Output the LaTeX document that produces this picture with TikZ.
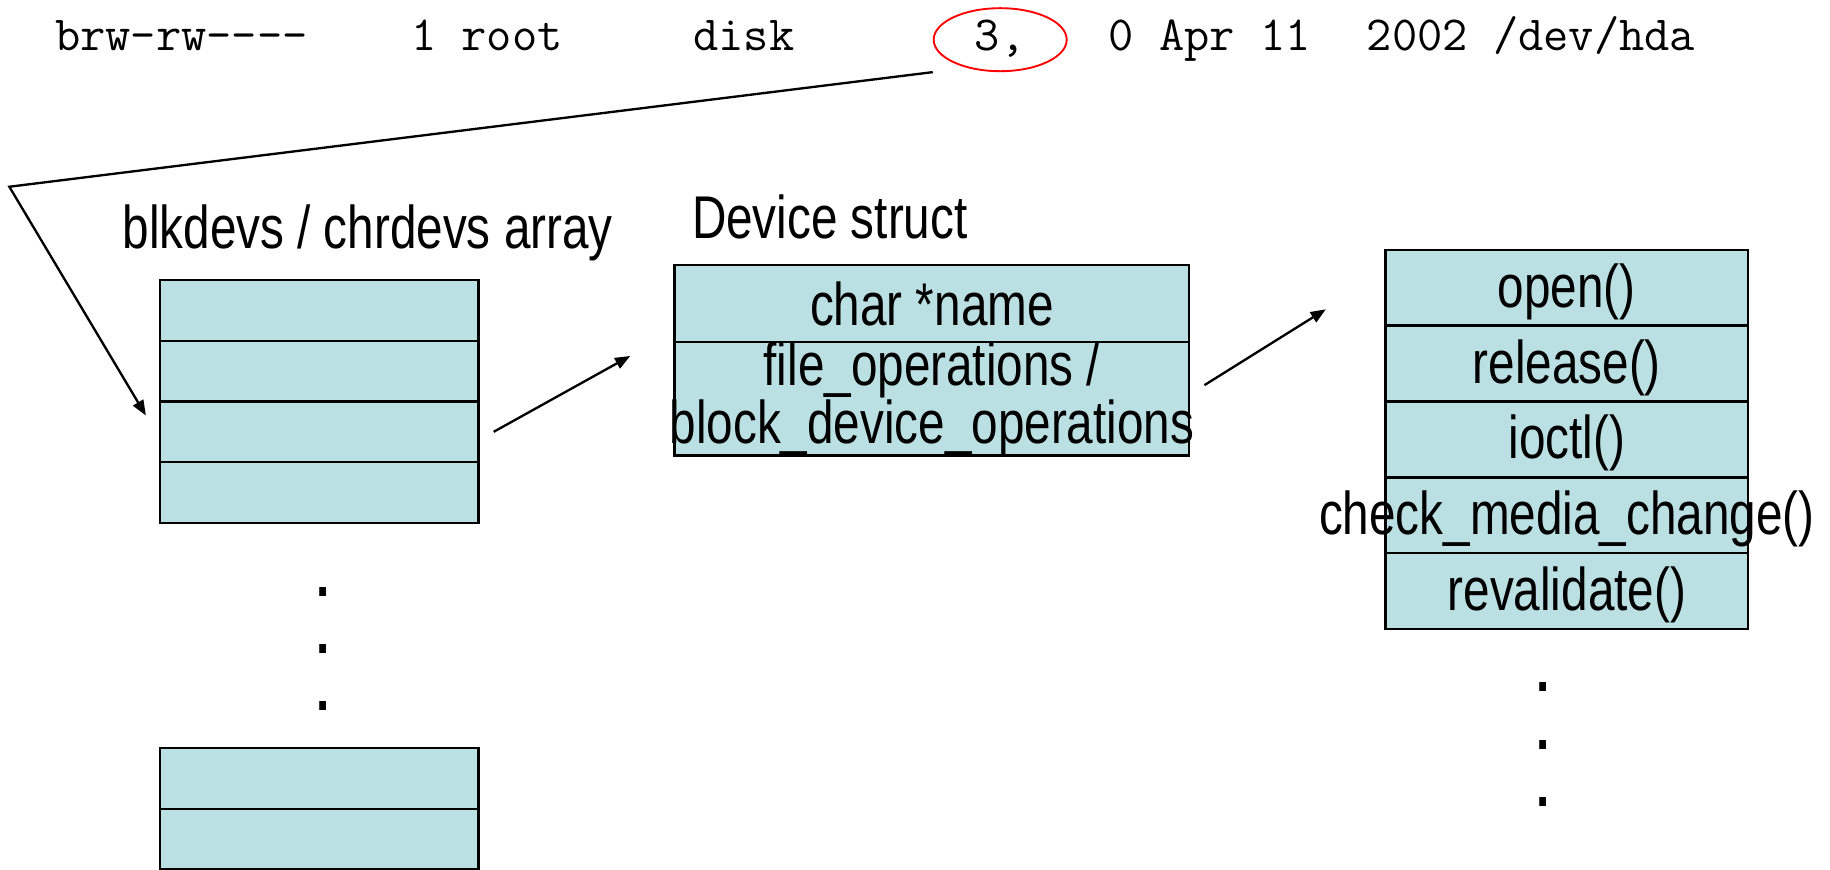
\documentclass[tikz,border=0pt]{standalone}
\usepackage{fontspec}
\setmainfont[FakeStretch=0.79]{Liberation Sans}
\usetikzlibrary{positioning}
\usetikzlibrary{shapes.geometric}
\usetikzlibrary{arrows.meta}
\definecolor{cellblue}{RGB}{187,224,227}

\begin{document}
\begin{tikzpicture}[x=1pt, y=-1pt, >={Triangle[length=13pt, width=10pt]},
slotnode/.style={rectangle, draw=black, fill=cellblue, line width=2pt, inner sep=0pt, outer sep=0pt, minimum width=273pt, minimum height=52pt},
fieldnode/.style={rectangle, draw=black, fill=cellblue, line width=2pt, inner sep=0pt, outer sep=0pt, minimum width=441pt, align=center, font=\fontsize{51.7}{46}\selectfont},
opnode/.style={rectangle, draw=black, fill=cellblue, line width=2pt, inner sep=0pt, outer sep=0pt, minimum width=311pt, minimum height=65pt, text depth=4pt, font=\fontsize{51.7}{60}\selectfont},
lsnode/.style={anchor=base west, inner sep=0pt, font=\ttfamily\fontsize{42}{45}\selectfont},
titlenode/.style={anchor=base, inner sep=0pt, font=\fontsize{51.7}{60}\selectfont},
dotsnode/.style={align=center, inner sep=0pt, font=\bfseries\fontsize{51.7}{49}\selectfont},
ringnode/.style={ellipse, draw=red, line width=1.6pt, inner sep=0pt, minimum width=114pt, minimum height=54pt},
conn/.style={line width=2pt}]
\useasboundingbox (0,0) rectangle (1568,745);

% ls -l line
\node[lsnode] (perm) at (47,43) {brw-rw----};
\node[lsnode] (owner) at (352,43) {1 root};
\node[lsnode] (group) at (594,43) {disk};
\node[lsnode] (major) at (835,43) {3,};
\node[lsnode] (minor) at (950,43) {0 Apr 11};
\node[lsnode] (file) at (1171,43) {2002 /dev/hda};
\node[ringnode] (majring) at (857,34) {};

% blkdevs / chrdevs array
\node[titlenode] (arraytitle) at (315,213) {blkdevs / chrdevs array};
\node[slotnode] (a1) at (273.5,266) {};
\node[slotnode] (a2) [below=0pt of a1] {};
\node[slotnode] (a3) [below=0pt of a2] {};
\node[slotnode] (a4) [below=0pt of a3] {};
\node[dotsnode] (adots) at (277,556) {.\\.\\.};
\node[slotnode] (a5) at (273.5,667) {};
\node[slotnode] (a6) [below=0pt of a5] {};

% device struct
\node[titlenode] (devtitle) at (711,204) {Device struct};
\node[fieldnode, minimum height=66pt] (dname) at (798.5,260) {char *name};
\node[fieldnode, minimum height=93pt] (dops) [below=0pt of dname] {\makebox[0pt]{file\_operations /}\\\makebox[0pt]{block\_device\_operations}};

% operations table
\node[opnode] (open) at (1342.5,246.5) {open()};
\node[opnode] (release) [below=0pt of open] {release()};
\node[opnode] (ioctl) [below=0pt of release] {ioctl()};
\node[opnode] (media) [below=0pt of ioctl] {\makebox[0pt]{check\_media\_change()}};
\node[opnode] (revalidate) [below=0pt of media] {revalidate()};
\node[dotsnode] (odots) at (1322,638) {.\\.\\.};

\coordinate (bend) at (8,160);
\coordinate (slothit) at (125,356);
\coordinate (aout) at (423,370);
\coordinate (din) at (540,305);
\coordinate (dout) at (1032,330);
\coordinate (oin) at (1136,265);

\draw[->, conn] (majring.west |- majring.south) -- (bend) -- (slothit);
\draw[->, conn] (aout) -- (din);
\draw[->, conn] (dout) -- (oin);
\end{tikzpicture}
\end{document}
